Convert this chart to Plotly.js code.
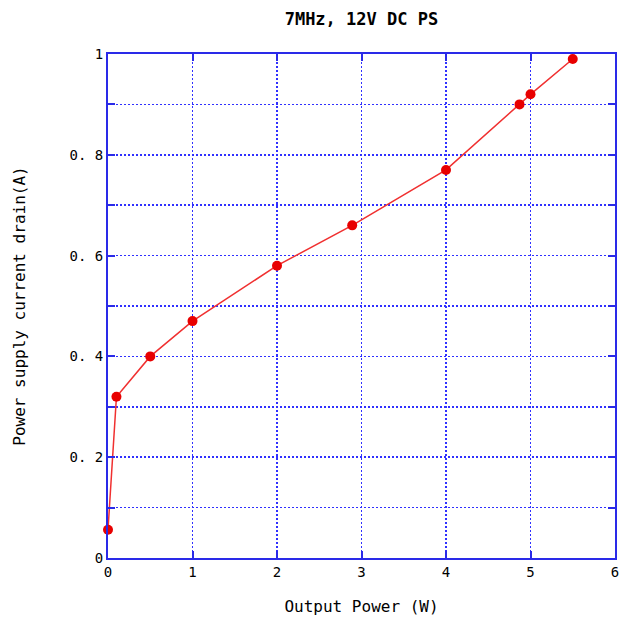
<!DOCTYPE html>
<html><head><meta charset="utf-8">
<script src="https://cdn.plot.ly/plotly-3.0.1.min.js"></script>
<style>body{margin:0;background:#fff}#c{width:621px;height:625px}</style>
</head><body><div id="c"></div>
<script>
const outputPower = [0, 0.1, 0.5, 1.0, 2.0, 2.89, 4.0, 4.87, 5.0, 5.5];
const currentDrain = [0.056, 0.32, 0.40, 0.47, 0.58, 0.66, 0.77, 0.90, 0.92, 0.99];
const xTicks = [0, 1, 2, 3, 4, 5, 6];
const yTicks = [0, 0.2, 0.4, 0.6, 0.8, 1];
const yTickText = ['0', '0. 2', '0. 4', '0. 6', '0. 8', '1'];

const blue = '#2a2ae8';
const gridBlue = '#3030ff';
const tickFont = {family: 'DejaVu Sans Mono, monospace', size: 14, color: '#000'};
const titleFont = {family: 'DejaVu Sans Mono, monospace', size: 16, color: '#000'};
Plotly.newPlot('c', [{
  x: outputPower, y: currentDrain, type: 'scatter', mode: 'lines+markers',
  line: {color: '#f03030', width: 1.5},
  marker: {color: '#e80000', size: 10},
  cliponaxis: false
}], {
  width: 621, height: 625,
  margin: {l: 108, r: 6, t: 54, b: 67},
  paper_bgcolor: '#fff', plot_bgcolor: '#fff',
  showlegend: false,
  font: tickFont,
  title: {text: '<b>7MHz, 12V DC PS</b>', x: 0.582, xanchor: 'center', y: 0.97, yanchor: 'middle',
    font: {family: 'DejaVu Sans Mono, monospace', size: 17, color: '#000'}},
  xaxis: {
    range: [0, 6], tickvals: xTicks, ticktext: xTicks.map(String),
    showline: true, linecolor: blue, linewidth: 2, mirror: 'ticks',
    ticks: 'inside', ticklen: 7, tickcolor: blue, tickwidth: 2,
    showgrid: true, gridcolor: gridBlue, griddash: '2px,2px', gridwidth: 1.5,
    zeroline: false, tickfont: tickFont,
    title: {text: 'Output Power (W)', font: titleFont, standoff: 22}
  },
  yaxis: {
    range: [0, 1], tickvals: yTicks, ticktext: yTickText,
    showline: true, linecolor: blue, linewidth: 2, mirror: 'ticks',
    ticks: 'inside', ticklen: 7, tickcolor: blue, tickwidth: 2,
    showgrid: true, gridcolor: gridBlue, griddash: '2px,2px', gridwidth: 1.5,
    minor: {dtick: 0.1, showgrid: true, gridcolor: gridBlue, griddash: '2px,2px', gridwidth: 1.5, ticks: 'inside', ticklen: 7, tickcolor: blue, tickwidth: 2},
    zeroline: false, tickfont: tickFont,
    title: {text: 'Power supply current drain(A)', font: titleFont, standoff: 40}
  }
}, {staticPlot: true});
</script></body></html>
